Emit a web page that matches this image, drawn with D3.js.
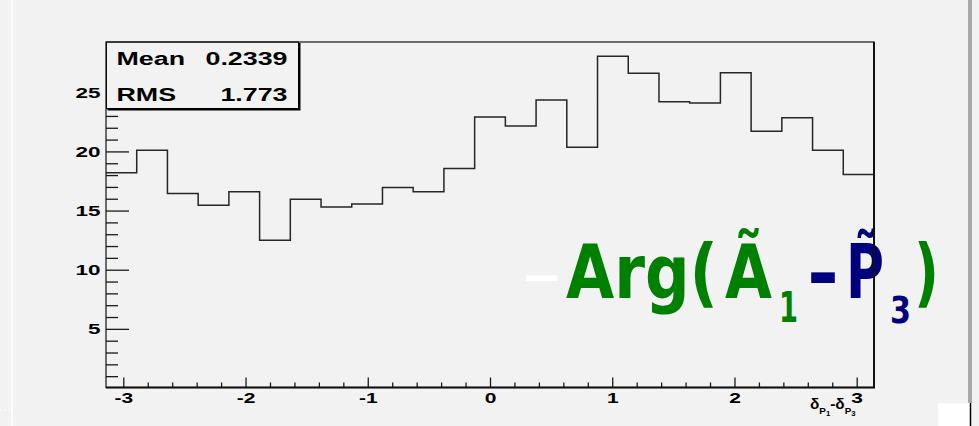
<!DOCTYPE html>
<html lang="en">
<head>
    <meta charset="utf-8">
    <title>Arg(A1-P3) histogram</title>
    <script src="https://d3js.org/d3.v7.min.js"></script>
    <style type="text/css">
        body { margin: 0; background: #f2f2f2; }
        svg { display: block; }
    </style>
</head>
<body>
<script type="text/javascript">
    //Bin contents, 25 bins spread over [-pi, pi]
    var binValues = [18.2, 20.1, 16.45, 15.45, 16.6, 12.5, 15.95, 15.3, 15.55, 16.95,
                     16.6, 18.55, 22.9, 22.15, 24.35, 20.35, 28.05, 26.6, 24.2, 24.1,
                     26.65, 21.7, 22.85, 20.1, 18.05];
    var xTicks = [-3, -2, -1, 0, 1, 2, 3];
    var yTicks = [5, 10, 15, 20, 25];
    var statNames = ["Mean", "RMS"];
    var statValues = ["0.2339", "1.773"];

    //Width and height
    var w = 979;
    var h = 426;
    var frame = {left: 106, right: 874, top: 42, bottom: 387.5};
    var labelFont = "'Liberation Sans', Arial, Helvetica, sans-serif";
    var stretch = 1.5;  //the picture is stretched sideways

    var nBins = binValues.length;
    var binWidth = 2 * Math.PI / nBins;

    var xScale = d3.scaleLinear()
        .domain([-Math.PI, Math.PI])
        .range([frame.left, frame.right]);
    var yScale = d3.scaleLinear()
        .domain([0, 29.25])
        .range([388, frame.top]);

    var svg = d3.select("body")
        .append("svg")
        .attr("width", w)
        .attr("height", h);

    //background
    svg.append("rect")
        .attr("width", w)
        .attr("height", h)
        .attr("fill", "#f2f2f2");

    //bits of the window around the canvas
    svg.append("rect").attr("x", 11).attr("y", 0).attr("width", 2).attr("height", h).attr("fill", "#fcfcfc");
    svg.append("line").attr("x1", 0).attr("x2", 10).attr("y1", 410).attr("y2", 410)
        .attr("stroke", "#ffffff").attr("stroke-dasharray", "2,2");
    svg.append("rect").attr("x", 968).attr("y", 0).attr("width", 4).attr("height", 403).attr("fill", "#a8a8a8");
    svg.append("rect").attr("x", 938).attr("y", 403).attr("width", 32).attr("height", 23).attr("fill", "#ffffff");
    svg.append("line").attr("x1", 970.5).attr("x2", 970.5).attr("y1", 403).attr("y2", h)
        .attr("stroke", "#000").attr("stroke-width", 1.5);

    //Histogram outline as steps
    var stepPoints = binValues.map(function(v, i) {
        return [-Math.PI + i * binWidth, v];
    });
    stepPoints.push([Math.PI, binValues[nBins - 1]]);

    var stepLine = d3.line()
        .x(function(d) { return xScale(d[0]); })
        .y(function(d) { return yScale(d[1]); })
        .curve(d3.curveStepAfter);

    svg.append("path")
        .datum(stepPoints)
        .attr("d", stepLine)
        .attr("fill", "none")
        .attr("stroke", "#262626")
        .attr("stroke-width", 1.5);

    //Axes: major and minor ticks point into the frame
    var xAxis = d3.axisBottom(xScale)
        .tickValues(xTicks)
        .tickSizeInner(-10)
        .tickSizeOuter(0)
        .tickPadding(6)
        .tickFormat(function(d) { return d < 0 ? "-" + (-d) : String(d); });
    var xMinor = d3.axisBottom(xScale)
        .tickValues(d3.range(-15, 16).filter(function(k) { return k % 5 !== 0; })
            .map(function(k) { return k / 5; }))
        .tickSizeInner(-5)
        .tickSizeOuter(0)
        .tickFormat("");
    var yAxis = d3.axisLeft(yScale)
        .tickValues(yTicks)
        .tickSizeInner(-23)
        .tickSizeOuter(0)
        .tickPadding(5);
    var yMinor = d3.axisLeft(yScale)
        .tickValues(d3.range(1, 30).filter(function(k) { return k % 5 !== 0; }))
        .tickSizeInner(-12)
        .tickSizeOuter(0)
        .tickFormat("");

    [xAxis, xMinor].forEach(function(ax) {
        svg.append("g")
            .attr("class", "axis")
            .attr("transform", "translate(0," + frame.bottom + ")")
            .call(ax);
    });
    [yAxis, yMinor].forEach(function(ax) {
        svg.append("g")
            .attr("class", "axis")
            .attr("transform", "translate(" + frame.left + ",0)")
            .call(ax);
    });
    svg.selectAll("g.axis path.domain").remove();
    svg.selectAll("g.axis g.tick line")
        .attr("stroke", "#1a1a1a")
        .attr("stroke-width", 1.3);
    svg.selectAll("g.axis text")
        .attr("font-family", labelFont)
        .attr("font-weight", "bold")
        .attr("fill", "#000");
    svg.selectAll("g.axis").filter(function(d, i) { return i === 0; }).selectAll("text")
        .attr("font-size", "14px")
        .attr("transform", "scale(" + stretch + ",1)");
    svg.selectAll("g.axis").filter(function(d, i) { return i === 2; }).selectAll("text")
        .attr("font-size", "15px")
        .attr("x", -5.5 / stretch)
        .attr("transform", "scale(" + stretch + ",1)");

    //X axis title: delta_P1 - delta_P3
    var title = svg.append("g")
        .attr("transform", "translate(810,409) scale(1.1,1)")
        .append("text")
        .attr("font-family", labelFont)
        .attr("font-weight", "bold")
        .attr("font-size", "14px");
    title.append("tspan").text("\u03b4");
    title.append("tspan").attr("dy", 5).attr("font-size", "9px").text("P");
    title.append("tspan").attr("dy", 2).attr("font-size", "7px").text("1");
    title.append("tspan").attr("dy", -7).text("-\u03b4");
    title.append("tspan").attr("dy", 5).attr("font-size", "9px").text("P");
    title.append("tspan").attr("dy", 2).attr("font-size", "7px").text("3");

    //Stats box
    var box = {x: 106.5, y: 42, w: 192, h: 66.5};
    svg.append("rect")
        .attr("x", box.x).attr("y", box.y)
        .attr("width", box.w).attr("height", box.h)
        .attr("fill", "#f2f2f2")
        .attr("stroke", "#000")
        .attr("stroke-width", 1);
    svg.append("path")
        .attr("d", "M" + (box.x + box.w + 1) + "," + (box.y + 1) +
            "V" + (box.y + box.h + 1) + "H" + (box.x + 1))
        .attr("fill", "none")
        .attr("stroke", "#000")
        .attr("stroke-width", 2);

    statNames.forEach(function(name, i) {
        var base = i === 0 ? 65 : 100.5;
        svg.append("text")
            .attr("transform", "translate(116.5," + base + ") scale(1.45,1)")
            .attr("font-family", labelFont)
            .attr("font-weight", "bold")
            .attr("font-size", "18.5px")
            .text(name);
        svg.append("text")
            .attr("transform", "translate(287.5," + base + ") scale(1.45,1)")
            .attr("text-anchor", "end")
            .attr("font-family", labelFont)
            .attr("font-weight", "bold")
            .attr("font-size", "18.5px")
            .text(statValues[i]);
    });

    //Big label: -Arg(A1 - P3), one text with a span for each piece
    var green = "#008000", navy = "#00007f";
    var bigFont = "'Comic Sans MS', 'DejaVu Sans', sans-serif";
    var parts = [
        {t: "\u2212", x: 521, y: 294, size: 50, fill: "#ffffff", len: 42},
        {t: "Arg(", x: 566, y: 298, size: 75, fill: green, len: 152},
        {t: "\u00c3", x: 725, y: 298, size: 75, fill: green, len: 47},
        {t: "1", x: 779, y: 321.5, size: 42, fill: green, len: 19},
        {t: "-", x: 807, y: 299, size: 75, fill: navy, len: 32},
        {t: "P\u0303", x: 846, y: 298, size: 75, fill: navy, len: 38},
        {t: "3", x: 890, y: 323, size: 38, fill: navy, len: 21},
        {t: ")", x: 914, y: 298, size: 75, fill: green, len: 25}
    ];
    var bigLabel = svg.append("text")
        .attr("font-family", bigFont)
        .attr("font-weight", "bold");
    parts.forEach(function(p) {
        bigLabel.append("tspan")
            .attr("x", p.x)
            .attr("y", p.y)
            .attr("textLength", p.len)
            .attr("lengthAdjust", "spacingAndGlyphs")
            .attr("font-size", p.size + "px")
            .attr("fill", p.fill)
            .text(p.t);
    });

    //Frame, drawn last so its edge crosses the label as in the picture
    svg.append("rect")
        .attr("x", frame.left)
        .attr("y", frame.top)
        .attr("width", frame.right - frame.left)
        .attr("height", frame.bottom - frame.top)
        .attr("fill", "none")
        .attr("stroke", "#111")
        .attr("stroke-width", 1.2);
    svg.append("path")
        .attr("d", "M" + frame.right + "," + frame.top + "V" + frame.bottom + "H" + frame.left)
        .attr("fill", "none")
        .attr("stroke", "#111")
        .attr("stroke-width", 2);
</script>
</body>
</html>
